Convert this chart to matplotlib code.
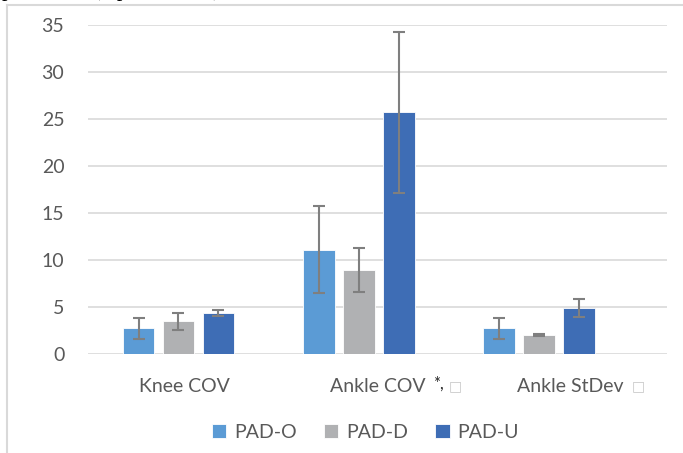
import numpy as np
import matplotlib
matplotlib.use("Agg")
import matplotlib.pyplot as plt
from matplotlib.lines import Line2D

# data
categories = ["Knee COV", "Ankle COV", "Ankle StDev"]
groups = ["PAD-O", "PAD-D", "PAD-U"]
pad_o = [2.72, 11.1, 2.72]
pad_d = [3.47, 8.97, 2.02]
pad_u = [4.36, 25.7, 4.93]
err_o = [1.15, 4.6, 1.13]
err_d = [0.88, 2.35, 0.08]
err_u = [0.30, 8.6, 0.95]
label_marks = ["", "*,", ""]      # superscript marks after labels
label_boxes = [False, True, True]  # missing-glyph boxes

colors = ["#5B9BD5", "#B0B1B3", "#3E6DB5"]
txt = "#595959"
grid = "#d9d9d9"

plt.rcParams['font.family'] = ['Lato', 'DejaVu Sans']

fig = plt.figure(figsize=(6.83, 4.53), dpi=100)
ax = fig.add_axes([0.1288, 0.2185, 0.8478, 0.7263])

values = [pad_o, pad_d, pad_u]
errs = [err_o, err_d, err_u]
idx = np.arange(len(categories))
centers = 0.934 * idx - 0.031
w = 0.164
step = 0.207
for k in range(3):
    ax.bar(centers + (k - 1) * step, values[k], w, color=colors[k],
           edgecolor="white", linewidth=0.6, label=groups[k], zorder=3,
           yerr=errs[k], error_kw=dict(ecolor="#7f7f7f", elinewidth=1.5,
                                       capsize=4.3, capthick=1.5, zorder=4))

ax.set_xlim(-0.5, 2.5)
ax.set_ylim(0, 35)
ax.set_yticks(range(0, 36, 5))
ax.set_xticks(idx)
ax.set_xticklabels(categories)
ax.yaxis.grid(True, color=grid, linewidth=1.2, zorder=0)
ax.set_axisbelow(True)
for s in ax.spines.values():
    s.set_visible(False)
ax.tick_params(axis="both", length=0, labelsize=14, labelcolor=txt)
ax.tick_params(axis="y", pad=17)
ax.tick_params(axis="x", pad=17)

fig.canvas.draw()
rend = fig.canvas.get_renderer()
for lab, mark, box in zip(ax.get_xticklabels(), label_marks, label_boxes):
    bb = lab.get_window_extent(rend)
    x = bb.x1 + 8
    if mark:
        t = fig.text(x / 683, (bb.y1 + 2) / 453, mark, fontsize=12, color="#262626",
                     ha="left", va="top")
        x = t.get_window_extent(rend).x1 + 5
    if box:
        fig.text(x / 683, (bb.y1 - 2) / 453, "\u25a1", fontsize=10, color="#c8c8c8",
                 ha="left", va="top", family=["DejaVu Sans"])

ax.legend(loc="center", bbox_to_anchor=(0.535, 0.046), bbox_transform=fig.transFigure,
          ncol=3, frameon=False, fontsize=14, labelcolor=txt, handlelength=0.75,
          handleheight=0.75, handletextpad=0.4, columnspacing=1.4)

# frame of the surrounding document
fig.add_artist(Line2D([7 / 683, 7 / 683], [0, 1 - 5 / 453], color=grid, lw=1.5))
fig.add_artist(Line2D([7 / 683, 1], [1 - 5 / 453, 1 - 5 / 453], color=grid, lw=1.5))
# cut-off line of document text above the chart
fig.text(2 / 683, 1 + 4 / 453, "p < 0.0001), p < 0.0001)", family="Liberation Serif",
         fontsize=16, color="black", ha="left", va="baseline")

fig.savefig("out.png", dpi=100)
